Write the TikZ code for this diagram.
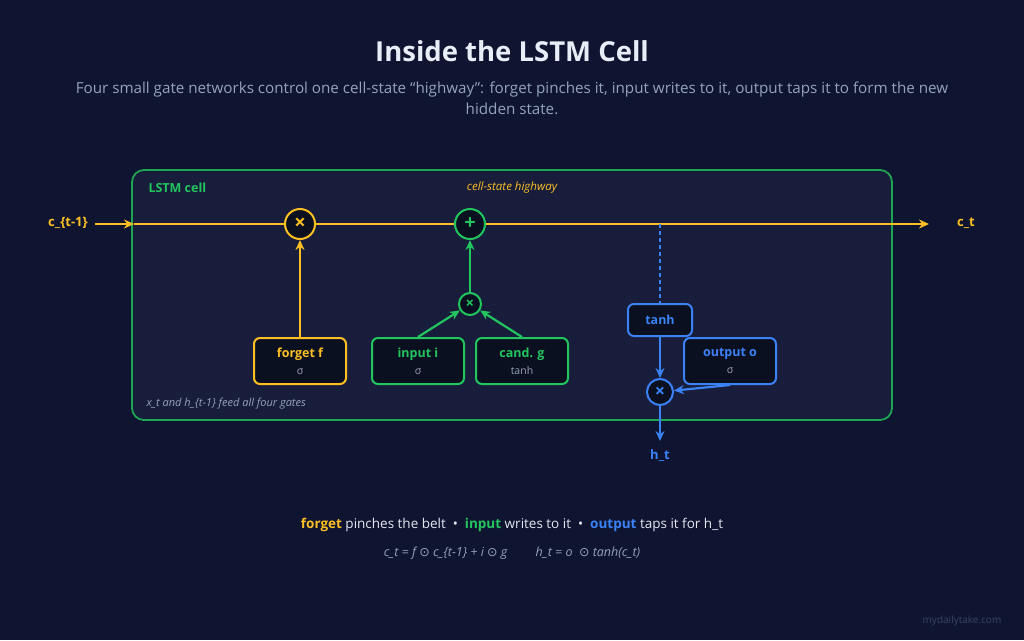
\documentclass[tikz,border=0pt]{standalone}
\usepackage{fontspec}
\setmainfont{Open Sans}
\newfontfamily\symfont{DejaVu Sans}
\usetikzlibrary{arrows.meta}
\definecolor{bgnavy}{HTML}{0F1530}
\definecolor{cellbg}{HTML}{181D3B}
\definecolor{boxbg}{HTML}{0B1020}
\definecolor{fyellow}{HTML}{FBBF24}
\definecolor{igreen}{HTML}{22C55E}
\definecolor{cgreen}{HTML}{1FA552}
\definecolor{oblue}{HTML}{3B82F6}
\definecolor{txtgray}{HTML}{94A3B8}
\definecolor{titlewhite}{HTML}{E8EEF8}
\definecolor{legwhite}{HTML}{E2E8F0}
\definecolor{markgray}{HTML}{3B4466}
\tikzset{
  gate/.style={draw=#1, line width=2pt, fill=boxbg, rounded corners=6pt,
    minimum width=92pt, minimum height=46pt, align=center, inner sep=2pt,
    font=\fontsize{12.5}{14}\selectfont},
  op/.style={circle, draw=#1, line width=2pt, fill=boxbg, text=#1,
    inner sep=0pt, minimum size=30pt, font=\fontsize{20}{20}\selectfont\bfseries},
  flow/.style={draw=#1, line width=2.2pt, -{Stealth[length=10pt,width=9pt]}},
  gname/.style={font=\fontsize{13}{15}\selectfont\bfseries},
}
\newcommand{\gsub}[1]{{\color{txtgray}\fontsize{10.5}{12}\selectfont #1}}
\begin{document}
\begin{tikzpicture}[x=1pt,y=-1pt]
\fill[bgnavy] (0,0) rectangle (1024,640);
\useasboundingbox (0,0) rectangle (1024,640);
% title and subtitle
\node[text=titlewhite, font=\fontsize{27.5}{30}\selectfont\bfseries] (title) at (512,51) {Inside the LSTM Cell};
\node[text=txtgray, font=\fontsize{15.2}{21}\selectfont, align=center] (sub) at (512,98)
  {Four small gate networks control one cell-state “highway”: forget pinches it, input writes to it, output taps it to form the new\\hidden state.};
% the cell
\draw[cgreen, line width=1.8pt, fill=cellbg, rounded corners=12pt] (132,170) rectangle (892,420);
\coordinate (cellin) at (134,224);
\node[text=igreen, font=\fontsize{12.5}{14}\selectfont\bfseries, anchor=west] (celltitle) at (145,188) {LSTM cell};
\node[text=fyellow, font=\fontsize{11.5}{13}\selectfont\itshape] (hwy) at (512,188) {cell-state highway};
\node[text=txtgray, font=\fontsize{11}{13}\selectfont\itshape, anchor=west] (feed) at (143,404) {x\_t and h\_\{t-1\} feed all four gates};
% highway ends
\node[text=fyellow, gname] (cin) at (68,223) {c\_\{t-1\}};
\node[text=fyellow, gname] (cout) at (966,223) {c\_t};
% operators
\node[op=fyellow] (mulf) at (300,224) {×};
\node[op=igreen] (addc) at (470,224) {+};
\node[op=igreen, minimum size=22pt, font=\fontsize{15}{15}\selectfont\bfseries] (mulig) at (470,304) {×};
\node[op=oblue, minimum size=26pt, font=\fontsize{18}{18}\selectfont\bfseries] (mulh) at (660,392) {×};
% gates
\node[gate=fyellow] (fgate) at (300,361) {{\color{fyellow}\bfseries forget f}\\[3pt]\gsub{σ}};
\node[gate=igreen] (igate) at (418,361) {{\color{igreen}\bfseries input i}\\[3pt]\gsub{σ}};
\node[gate=igreen] (ggate) at (522,361) {{\color{igreen}\bfseries cand. g}\\[3pt]\gsub{tanh}};
\node[gate=oblue] (ogate) at (730,361) {{\color{oblue}\bfseries output o}\\[3pt]\gsub{σ}};
\node[gate=oblue, minimum width=64pt, minimum height=32pt, text=oblue, font=\fontsize{12.5}{14}\selectfont\bfseries] (tanhc) at (660,320) {tanh};
\node[text=oblue, gname] (ht) at (660,456) {h\_t};
\coordinate (tap) at (660,224);
\coordinate (hend) at (660,441);
\coordinate (cend) at (929,224);
% highway
\draw[flow=fyellow] (cin.east) ++(4,1) -- (cellin);
\draw[fyellow, line width=2.2pt] (cellin) -- (mulf);
\draw[fyellow, line width=2.2pt] (mulf) -- (addc);
\draw[flow=fyellow] (addc) -- (cend);
% gate connectors
\draw[flow=fyellow] (fgate) -- (mulf);
\draw[flow=igreen] (igate.north) -- (mulig);
\draw[flow=igreen] (ggate.north) -- (mulig);
\draw[flow=igreen] (mulig) -- (addc);
\draw[oblue, line width=2pt, dash pattern=on 4pt off 3pt] (tap) -- (tanhc);
\draw[flow=oblue] (tanhc) -- (mulh);
\draw[flow=oblue] (ogate.south) -- (mulh);
\draw[flow=oblue] (mulh) -- (hend);
% legend
\node[text=legwhite, font=\fontsize{13.5}{15}\selectfont] (legend) at (512,525)
  {{\color{fyellow}\bfseries forget} pinches the belt \ • \ {\color{igreen}\bfseries input} writes to it \ • \ {\color{oblue}\bfseries output} taps it for h\_t};
\node[text=txtgray, font=\fontsize{12.5}{14}\selectfont\itshape] (eqs) at (512,553)
  {c\_t = f {\symfont ⊙} c\_\{t-1\} + i {\symfont ⊙} g \qquad h\_t = o \ {\symfont ⊙} tanh(c\_t)};
\node[text=markgray, font=\fontsize{10}{12}\selectfont] (mark) at (962,621) {mydailytake.com};
\end{tikzpicture}
\end{document}
